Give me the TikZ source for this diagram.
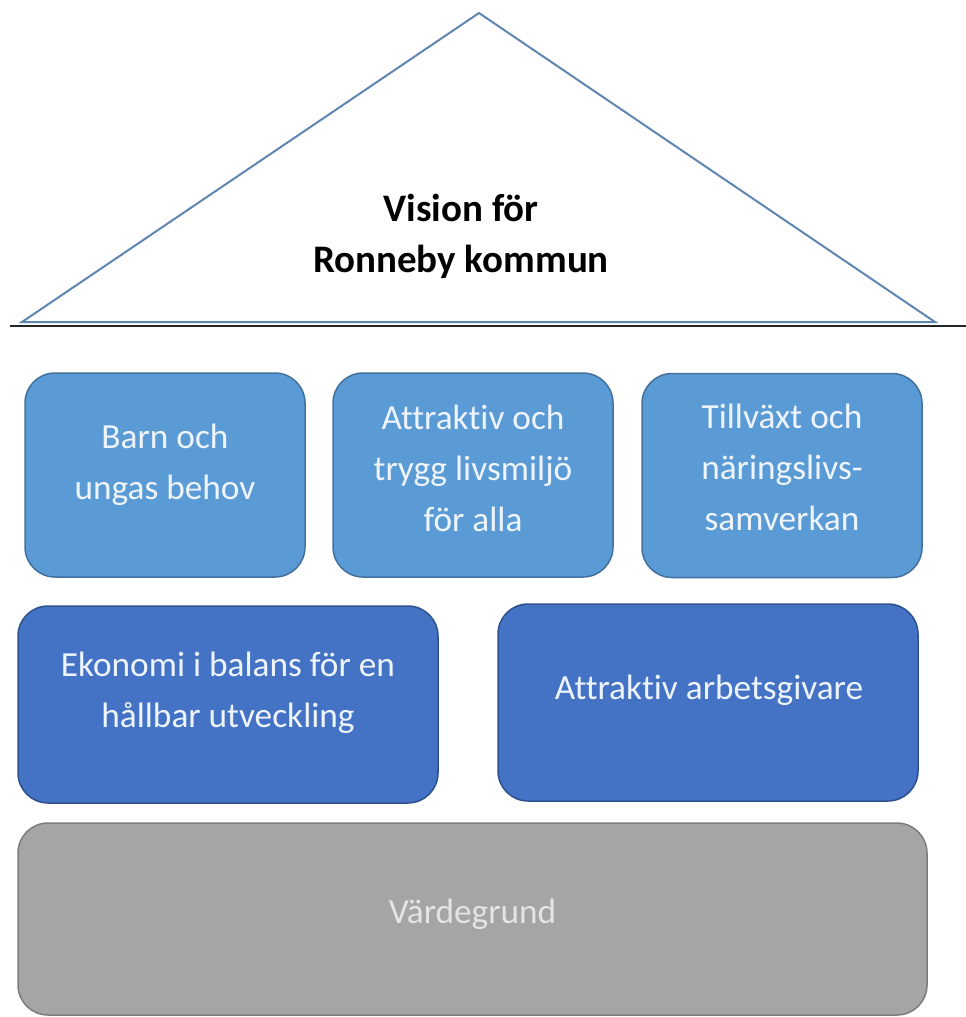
\documentclass[tikz,border=0pt]{standalone}
\usepackage{fontspec}
\setmainfont{Carlito}[Ligatures=NoCommon]
\definecolor{lightblue}{HTML}{5B9BD5}
\definecolor{lightblueborder}{HTML}{41719C}
\definecolor{darkblue}{HTML}{4472C4}
\definecolor{darkblueborder}{HTML}{2F528F}
\definecolor{greyfill}{HTML}{A5A5A5}
\definecolor{greyborder}{HTML}{7C7C7C}
\definecolor{rooflines}{HTML}{5E86B0}
\definecolor{boxtext}{HTML}{EEF4FB}
\definecolor{greytext}{HTML}{E4E4E4}
\tikzset{
  boxbase/.style={rounded corners=30pt, line width=1.5pt, inner sep=0pt},
  pillar/.style={boxbase, draw=lightblueborder, fill=lightblue,
    minimum width=280pt, minimum height=204pt},
  beam/.style={boxbase, draw=darkblueborder, fill=darkblue,
    minimum width=420pt, minimum height=197pt},
  base/.style={boxbase, draw=greyborder, fill=greyfill,
    minimum width=909pt, minimum height=192pt},
  boxlabel/.style={align=center, text=boxtext, inner sep=0pt,
    font=\fontsize{35.3}{51}\selectfont},
  baselabel/.style={boxlabel, text=greytext},
  title/.style={align=center, font=\bfseries\fontsize{39}{51}\selectfont, text=black, inner sep=0pt}
}
\begin{document}
\begin{tikzpicture}[x=1pt,y=-1pt]
\useasboundingbox (0,0) rectangle (966,1017);
% roof
\draw[rooflines, line width=2pt, line join=miter] (22,322) -- (479,13) -- (935,322) -- cycle;
\draw[black!85, line width=1.6pt] (10,326) -- (966,326);
\node[title] (vision) at (461,236) {Vision för\\Ronneby kommun};
% pillars
\node[pillar] (barn) at (165,475) {};
\node[pillar] (livsmiljo) at (473,475) {};
\node[pillar] (tillvaxt) at (782,475.5) {};
\node[boxlabel] (barn-t) at ([yshift=10.5pt]barn.center) {Barn och\\ungas behov};
\node[boxlabel] (livsmiljo-t) at ([yshift=7pt]livsmiljo.center) {Attraktiv och\\trygg livsmiljö\\för alla};
\node[boxlabel] (tillvaxt-t) at ([yshift=8pt]tillvaxt.center) {Tillväxt och\\näringslivs-\\samverkan};
% beams
\node[beam] (ekonomi) at (228,704.5) {};
\node[beam] (arbetsgivare) at (708,702.5) {};
\node[boxlabel] (ekonomi-t) at ([yshift=12pt]ekonomi.center) {Ekonomi i balans för en\\hållbar utveckling};
\node[boxlabel] (arbetsgivare-t) at ([xshift=1pt,yshift=12pt]arbetsgivare.center) {Attraktiv arbetsgivare};
% foundation
\node[base] (vardegrund) at (472.5,919) {};
\node[baselabel] (vardegrund-t) at ([yshift=5pt]vardegrund.center) {Värdegrund};
\end{tikzpicture}
\end{document}
